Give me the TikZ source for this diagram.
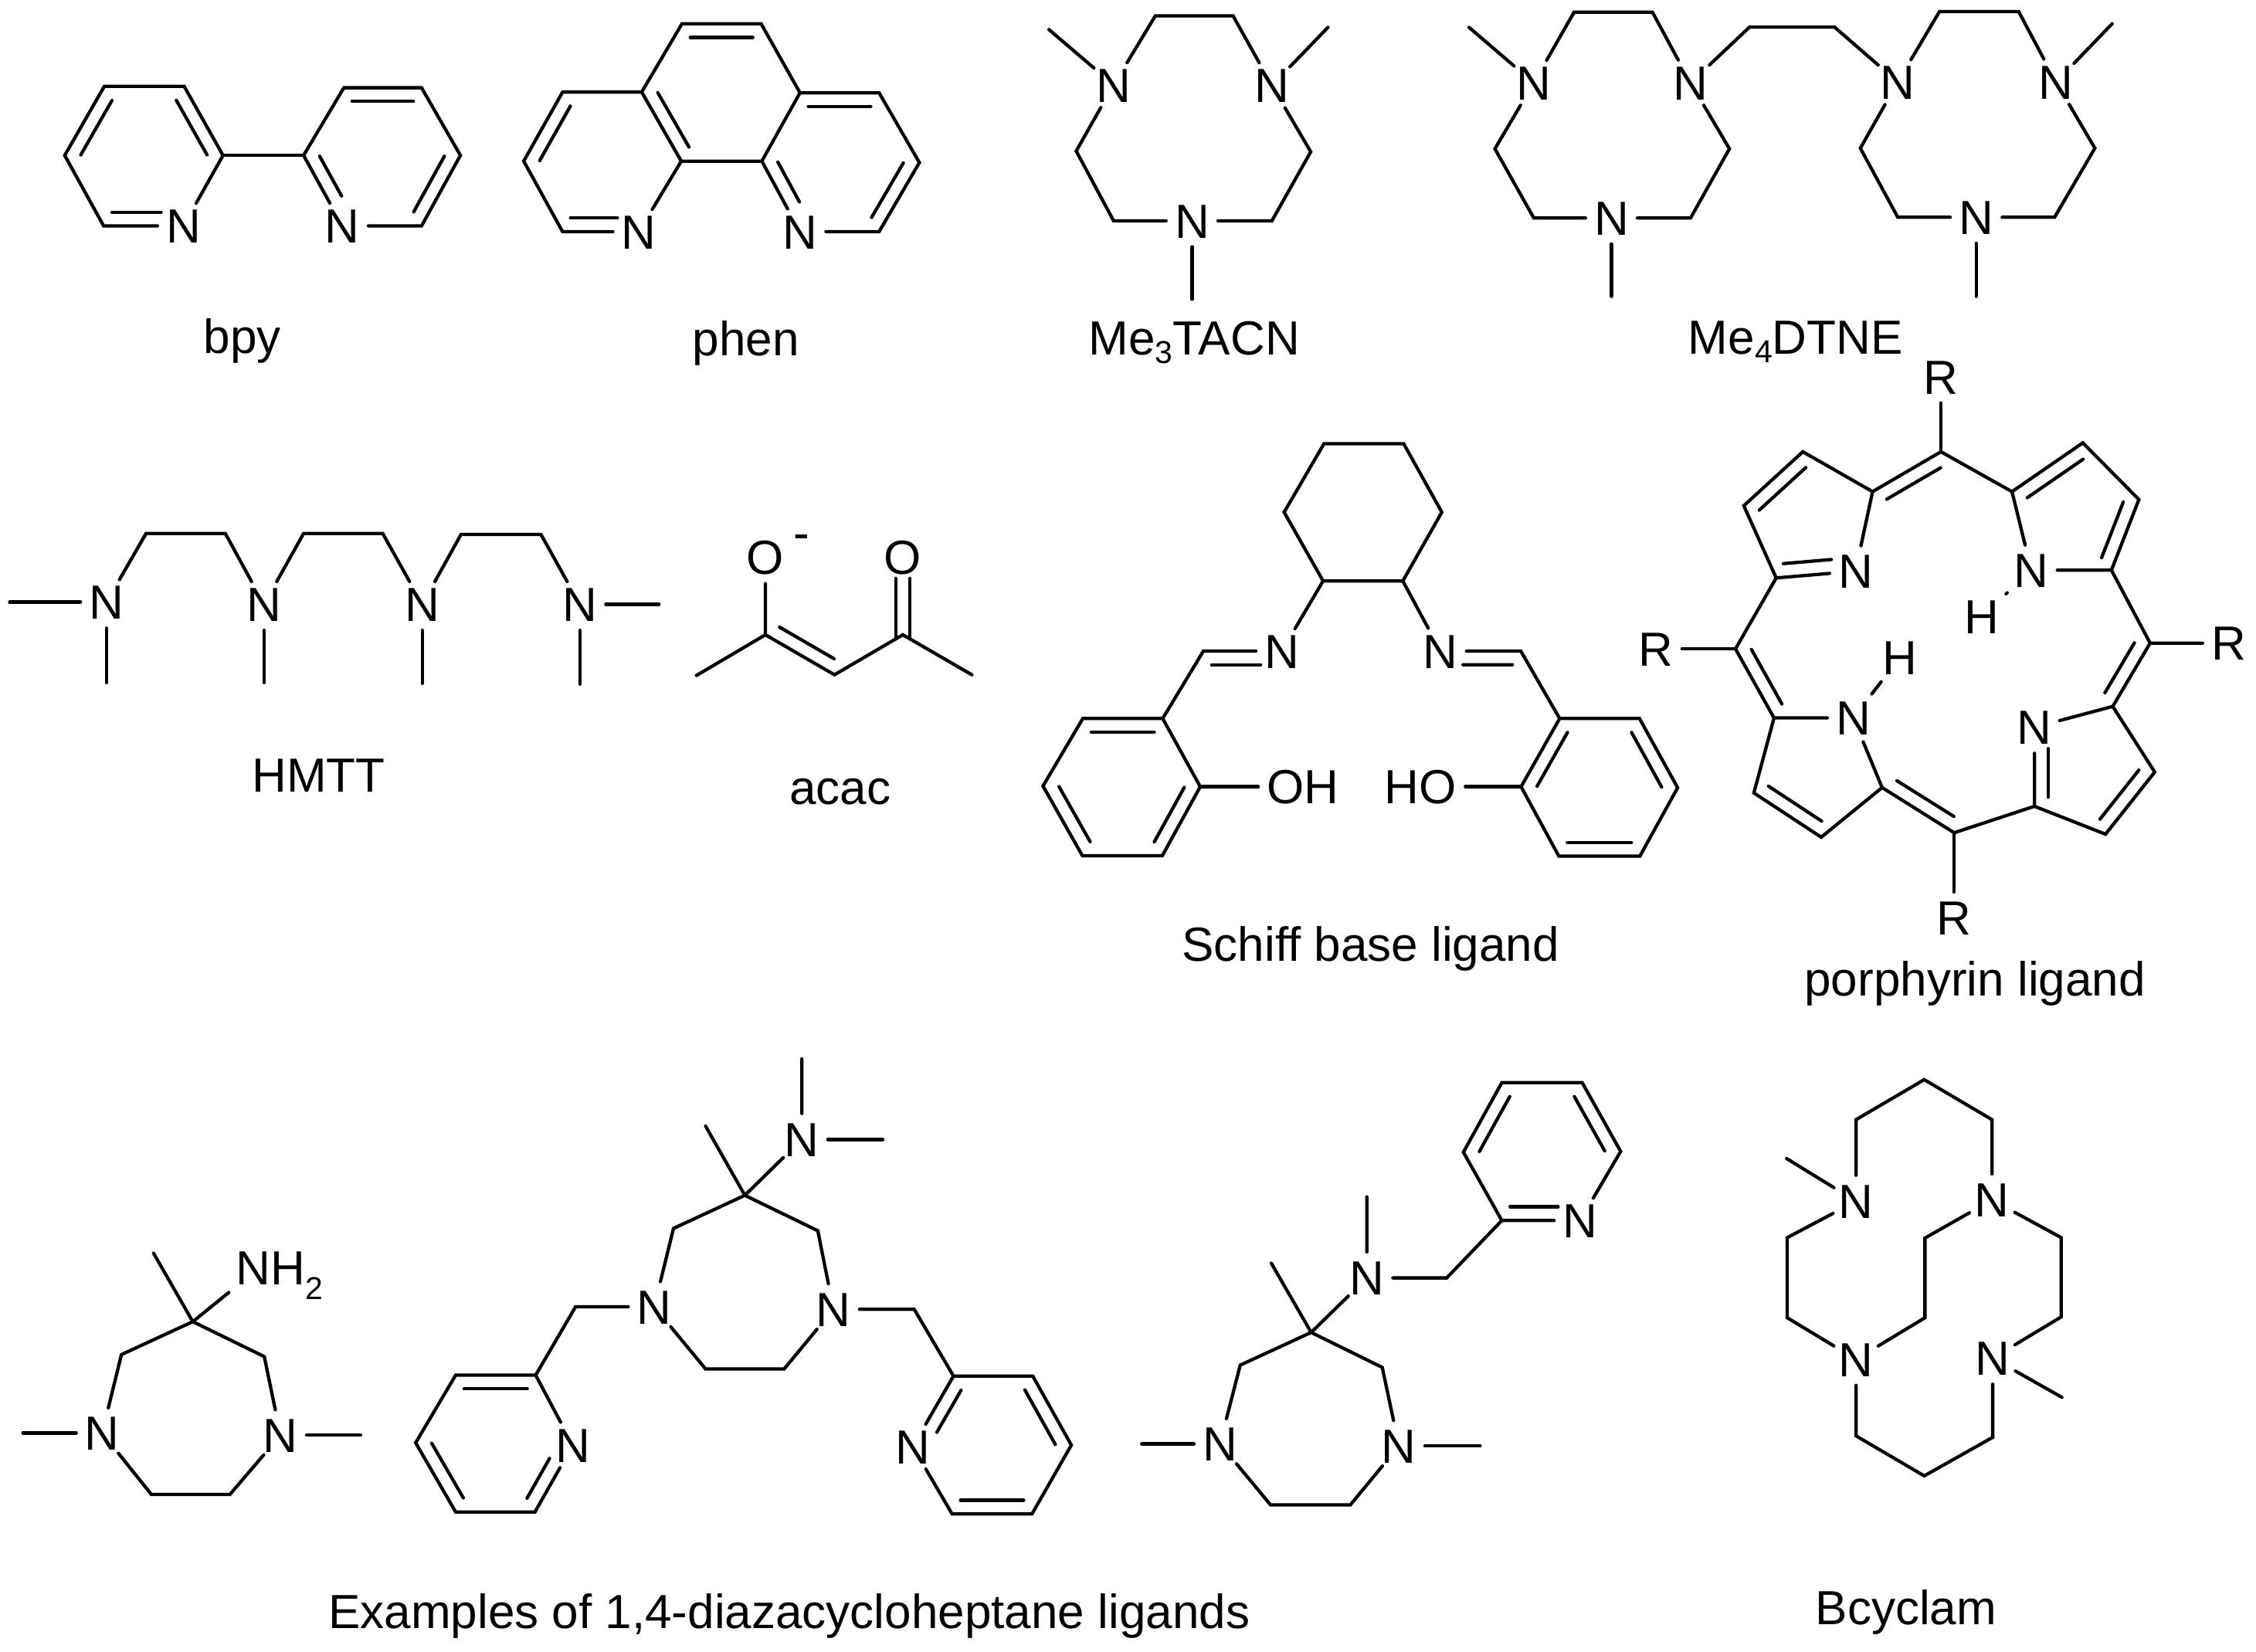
\documentclass[tikz,border=0pt]{standalone}
\usepackage{fontspec}
\setmainfont{Liberation Sans}
\usetikzlibrary{calc}

\newcommand{\dbond}[4]{\draw ($(#1)!#3!(#2)!9.5pt!90:(#2)$) -- ($(#2)!#4!(#1)!9.5pt!-90:(#1)$);}
\newcommand{\ringbond}[2]{\dbond{#1}{#2}{.105}{.105}}
\newcommand{\subtext}[2][6pt]{\raisebox{-#1}{\fontsize{22}{22}\selectfont #2}}

\tikzset{atom/.style={circle,inner sep=0pt,minimum size=32pt,font=\fontsize{33.3}{33.3}\selectfont,text height=23.8pt,text depth=0pt},
group/.style={inner sep=5pt,font=\fontsize{33.3}{33.3}\selectfont,text height=23.8pt,text depth=0pt},
caption/.style={anchor=base,inner sep=0pt,font=\fontsize{33.3}{38}\selectfont}}

\begin{document}
\begin{tikzpicture}[x=1pt,y=-1pt,line width=2.3pt,line cap=round,line join=miter]
\useasboundingbox (0,0) rectangle (1568,1148);

%% Coordinates of atoms.
% bpy
\coordinate (bpy1) at (72.5,60);
\coordinate (bpy2) at (128,60);
\coordinate (bpy3) at (155,108);
\coordinate (bpy4) at (45,108);
\coordinate (bpy5) at (72,157);
\coordinate (bpy6) at (211,108);
\coordinate (bpy7) at (239,61);
\coordinate (bpy8) at (293,61);
\coordinate (bpy9) at (320,108);
\coordinate (bpy10) at (293,157);
% phen
\coordinate (ph1) at (474,16.5);
\coordinate (ph2) at (529,16.5);
\coordinate (ph3) at (446,64);
\coordinate (ph4) at (556,64.5);
\coordinate (ph5) at (391,64);
\coordinate (ph6) at (611,64.5);
\coordinate (ph7) at (364,112);
\coordinate (ph8) at (639,113);
\coordinate (ph9) at (473.5,112);
\coordinate (ph10) at (529.5,112);
\coordinate (ph11) at (391,161);
\coordinate (ph12) at (611,161);
% Me3TACN
\coordinate (ta1) at (803,11);
\coordinate (ta2) at (857,11);
\coordinate (ta3) at (729,20.5);
\coordinate (ta4) at (923,19);
\coordinate (ta5) at (748,105);
\coordinate (ta6) at (911,105.5);
\coordinate (ta7) at (774,153.5);
\coordinate (ta8) at (884,153.5);
\coordinate (ta9) at (828.5,208);
% Me4DTNE
\coordinate (dt1) at (1094,8.5);
\coordinate (dt2) at (1148.5,8.5);
\coordinate (dt3) at (1216,18.8);
\coordinate (dt4) at (1275,18.8);
\coordinate (dt5) at (1348,8);
\coordinate (dt6) at (1403,8);
\coordinate (dt7) at (1021,19);
\coordinate (dt8) at (1468,16.5);
\coordinate (dt9) at (1039,103.4);
\coordinate (dt10) at (1202,103.4);
\coordinate (dt11) at (1293,103);
\coordinate (dt12) at (1456,103);
\coordinate (dt13) at (1066,151.5);
\coordinate (dt14) at (1175,151.5);
\coordinate (dt15) at (1319,151);
\coordinate (dt16) at (1428,151);
\coordinate (dt17) at (1120,206);
\coordinate (dt18) at (1373.5,206);
% HMTT
\coordinate (hm1) at (101.5,370.8);
\coordinate (hm2) at (156.6,370.8);
\coordinate (hm3) at (211,370.8);
\coordinate (hm4) at (266,370.8);
\coordinate (hm5) at (320.4,371.5);
\coordinate (hm6) at (376,371.5);
\coordinate (hm7) at (6.7,418.5);
\coordinate (hm8) at (458,420);
\coordinate (hm9) at (74,474.5);
\coordinate (hm10) at (183.5,474.5);
\coordinate (hm11) at (293.5,475);
\coordinate (hm12) at (403,475.5);
% acac
\coordinate (ac1) at (532,441.2);
\coordinate (ac2) at (580,469);
\coordinate (ac3) at (627.5,441.2);
\coordinate (ac4) at (484,469.5);
\coordinate (ac5) at (675.5,469);
\coordinate (ac6) at (622.5,402);
\coordinate (ac7) at (622.5,444);
\coordinate (ac8) at (632.5,402);
\coordinate (ac9) at (632.5,444);
% Schiff base
\coordinate (sb1) at (920.2,308.4);
\coordinate (sb2) at (975.6,308.4);
\coordinate (sb3) at (1002.1,356);
\coordinate (sb4) at (975,403.8);
\coordinate (sb5) at (919.6,403.8);
\coordinate (sb6) at (892.5,356);
\coordinate (sb7) at (836.4,452.5);
\coordinate (sb8) at (1057,452.5);
\coordinate (sb9) at (808.1,499.4);
\coordinate (sb10) at (752.6,499.4);
\coordinate (sb11) at (724.9,546.3);
\coordinate (sb12) at (752.3,594.8);
\coordinate (sb13) at (807.8,594.8);
\coordinate (sb14) at (834.2,546.8);
\coordinate (sb15) at (1084,499.4);
\coordinate (sb16) at (1139.5,499.4);
\coordinate (sb17) at (1166,547.5);
\coordinate (sb18) at (1139.8,595);
\coordinate (sb19) at (1083.4,595);
\coordinate (sb20) at (1057.2,546.8);
% porphyrin
\coordinate (pp1) at (1349,314);
\coordinate (pp2) at (1301.5,341.7);
\coordinate (pp3) at (1253,314);
\coordinate (pp4) at (1212,351.5);
\coordinate (pp5) at (1234.5,401.7);
\coordinate (pp6) at (1398.4,341.7);
\coordinate (pp7) at (1447.6,307.8);
\coordinate (pp8) at (1486.6,347.2);
\coordinate (pp9) at (1467.5,396.3);
\coordinate (pp10) at (1494.4,447);
\coordinate (pp11) at (1468.4,491);
\coordinate (pp12) at (1497.6,536.6);
\coordinate (pp13) at (1463.4,579.8);
\coordinate (pp14) at (1414,560.4);
\coordinate (pp15) at (1358.2,578.8);
\coordinate (pp16) at (1308.1,547.4);
\coordinate (pp17) at (1265.8,581.9);
\coordinate (pp18) at (1219,551.1);
\coordinate (pp19) at (1233,499);
\coordinate (pp20) at (1206.2,451);
% diazacycloheptane with NH2
\coordinate (da1) at (134,918.6);
\coordinate (da2) at (106.7,871);
\coordinate (da3) at (84.4,941.5);
\coordinate (da4) at (183.7,942.9);
\coordinate (da5) at (105.2,1038.7);
\coordinate (da6) at (159.8,1038.7);
\coordinate (da7) at (15.9,996);
\coordinate (da8) at (250.7,997.5);
% diazacycloheptane with two pyridines
\coordinate (db1) at (517.7,830.8);
\coordinate (db2) at (490.4,782.7);
\coordinate (db3) at (557.3,736);
\coordinate (db4) at (613.6,792);
\coordinate (db5) at (468.1,853.8);
\coordinate (db6) at (568.4,855.4);
\coordinate (db7) at (490.4,951.5);
\coordinate (db8) at (545,951.5);
\coordinate (db9) at (400,908.3);
\coordinate (db10) at (635.4,910);
\coordinate (db11) at (372.3,955.8);
\coordinate (db12) at (316.7,955.8);
\coordinate (db13) at (288.9,1002.8);
\coordinate (db14) at (316.7,1050.9);
\coordinate (db15) at (371.8,1050.9);
\coordinate (db16) at (662.7,956.4);
\coordinate (db17) at (717.8,956.4);
\coordinate (db18) at (744.6,1004.4);
\coordinate (db19) at (717.3,1052.2);
\coordinate (db20) at (661.7,1052.2);
% diazacycloheptane with one pyridine
\coordinate (dc1) at (911.3,926.1);
\coordinate (dc2) at (883.6,878);
\coordinate (dc3) at (950,831.9);
\coordinate (dc4) at (1005.5,888.2);
\coordinate (dc5) at (1043.8,848.3);
\coordinate (dc6) at (1017.1,800.8);
\coordinate (dc7) at (1043.8,752.5);
\coordinate (dc8) at (1099.7,752.5);
\coordinate (dc9) at (1126.4,800.3);
\coordinate (dc10) at (862,948.8);
\coordinate (dc11) at (960.7,950.4);
\coordinate (dc12) at (883.1,1046);
\coordinate (dc13) at (938.5,1046);
\coordinate (dc14) at (793.5,1003.5);
\coordinate (dc15) at (1028.7,1005);
% Bcyclam
\coordinate (bc1) at (1337.4,750.4);
\coordinate (bc2) at (1290,778.2);
\coordinate (bc3) at (1384.5,778.2);
\coordinate (bc4) at (1337.4,1025.8);
\coordinate (bc5) at (1290,998);
\coordinate (bc6) at (1385,999);
\coordinate (bc7) at (1241.7,805.2);
\coordinate (bc8) at (1433.1,971.2);
\coordinate (bc9) at (1242.2,860.2);
\coordinate (bc10) at (1242.2,915.9);
\coordinate (bc11) at (1337.9,860.5);
\coordinate (bc12) at (1337.9,915.9);
\coordinate (bc13) at (1432.6,860.2);
\coordinate (bc14) at (1432.6,915.3);

%% atom labels
\node [atom] (bpyNa) at (127.5,157) {N};
\node [atom] (bpyNb) at (238,157) {N};
\node [atom] (phNa) at (444,161) {N};
\node [atom] (phNb) at (556,161) {N};
\node [atom] (taNa) at (774,59) {N};
\node [atom] (taNb) at (884,59.4) {N};
\node [atom] (taNc) at (828.5,153.5) {N};
\node [atom] (dtNa) at (1066,57.6) {N};
\node [atom] (dtNb) at (1175,57.6) {N};
\node [atom] (dtNc) at (1319,57) {N};
\node [atom] (dtNd) at (1429,57) {N};
\node [atom] (dtNe) at (1120,151.5) {N};
\node [atom] (dtNf) at (1373.5,151) {N};
\node [atom] (hmNa) at (74,418.5) {N};
\node [atom] (hmNb) at (183.5,420) {N};
\node [atom] (hmNc) at (293.5,420) {N};
\node [atom] (hmNd) at (403,420) {N};
\node [atom] (acOa) at (532,387) {O};
\node [atom] (acOb) at (627.5,387) {O};
\node [atom,minimum size=0pt] (acMinus) at (557,370) {-};
\node [atom] (sbNa) at (890.9,452.5) {N};
\node [atom] (sbNb) at (1001.2,452.5) {N};
\node [group,anchor=west] (sbOH) at (874.5,546.8) {OH};
\node [group,anchor=east] (sbHO) at (1018.5,546.8) {HO};
\node [atom] (ppNa) at (1289.6,397) {N};
\node [atom] (ppNb) at (1411.8,396.3) {N};
\node [atom] (ppNc) at (1414,505.5) {N};
\node [atom] (ppNd) at (1288.1,499) {N};
\node [atom] (ppHb) at (1377.5,428.5) {H};
\node [atom] (ppHd) at (1320.3,457.2) {H};
\node [atom] (ppRa) at (1349,262) {R};
\node [atom] (ppRb) at (1548.9,447) {R};
\node [atom] (ppRc) at (1358.2,638) {R};
\node [atom] (ppRd) at (1151,451) {R};
\node [atom] (daNa) at (71,996) {N};
\node [atom] (daNb) at (195,997.5) {N};
\node [group,anchor=west,inner sep=4pt] (daNH) at (159,881.3) {NH\subtext[10pt]{2}};
\node [atom] (dbNa) at (557.3,792) {N};
\node [atom] (dbNb) at (454.7,908.3) {N};
\node [atom] (dbNc) at (579.3,910) {N};
\node [atom] (dbNd) at (398.1,1004.4) {N};
\node [atom] (dbNe) at (634.4,1005.5) {N};
\node [atom] (dcNa) at (950,888.2) {N};
\node [atom] (dcNb) at (1098.2,848.3) {N};
\node [atom] (dcNc) at (847.9,1003.5) {N};
\node [atom] (dcNd) at (972.3,1005) {N};
\node [atom] (bcNa) at (1290,834.9) {N};
\node [atom] (bcNb) at (1384.5,834) {N};
\node [atom] (bcNc) at (1290,944.8) {N};
\node [atom] (bcNd) at (1385,944) {N};

%% single bonds and outer lines
\draw (bpyNa) -- (bpy3) -- (bpy2) -- (bpy1) -- (bpy4) -- (bpy5) -- (bpyNa);
\draw (bpy3) -- (bpy6);
\draw (bpyNb) -- (bpy6) -- (bpy7) -- (bpy8) -- (bpy9) -- (bpy10) -- (bpyNb);

\draw (phNa) -- (ph9) -- (ph3) -- (ph5) -- (ph7) -- (ph11) -- (phNa);
\draw (ph3) -- (ph1) -- (ph2) -- (ph4) -- (ph10) -- (ph9);
\draw (phNb) -- (ph10);
\draw (phNb) -- (ph12) -- (ph8) -- (ph6) -- (ph4);

\draw (taNa) -- (ta1) -- (ta2) -- (taNb) -- (ta6) -- (ta8) -- (taNc) -- (ta7) -- (ta5) -- (taNa);
\draw (taNa) -- (ta3);
\draw (taNb) -- (ta4);
\draw (taNc) -- (ta9);

\draw (dtNa) -- (dt1) -- (dt2) -- (dtNb) -- (dt10) -- (dt14) -- (dtNe) -- (dt13) -- (dt9) -- (dtNa);
\draw (dtNc) -- (dt5) -- (dt6) -- (dtNd) -- (dt12) -- (dt16) -- (dtNf) -- (dt15) -- (dt11) -- (dtNc);
\draw (dtNb) -- (dt3) -- (dt4) -- (dtNc);
\draw (dtNa) -- (dt7);
\draw (dtNd) -- (dt8);
\draw (dtNe) -- (dt17);
\draw (dtNf) -- (dt18);

\draw (hmNa) -- (hm1) -- (hm2) -- (hmNb) -- (hm3) -- (hm4) -- (hmNc) -- (hm5) -- (hm6) -- (hmNd);
\draw (hmNa) -- (hm7);
\draw (hmNd) -- (hm8);
\draw (hmNa) -- (hm9);
\draw (hmNb) -- (hm10);
\draw (hmNc) -- (hm11);
\draw (hmNd) -- (hm12);

\draw (acOa) -- (ac1) -- (ac2) -- (ac3) -- (ac5);
\draw (ac1) -- (ac4);
\draw (ac6) -- (ac7);
\draw (ac8) -- (ac9);

\draw (sb1) -- (sb2) -- (sb3) -- (sb4) -- (sb5) -- (sb6) -- cycle;
\draw (sb5) -- (sbNa) -- (sb7) -- (sb9);
\draw (sb4) -- (sbNb) -- (sb8) -- (sb15);
\draw (sb9) -- (sb10) -- (sb11) -- (sb12) -- (sb13) -- (sb14) -- cycle;
\draw (sb15) -- (sb16) -- (sb17) -- (sb18) -- (sb19) -- (sb20) -- cycle;
\draw (sb14) -- (sbOH.west);
\draw (sb20) -- (sbHO.east);

\draw (ppNa) -- (pp2) -- (pp1) -- (pp6) -- (ppNb);
\draw (pp2) -- (pp3) -- (pp4) -- (pp5) -- (ppNa);
\draw (pp6) -- (pp7) -- (pp8) -- (pp9) -- (ppNb);
\draw (pp9) -- (pp10) -- (ppRb);
\draw (pp10) -- (pp11) -- (ppNc);
\draw (pp11) -- (pp12) -- (pp13) -- (pp14) -- (ppNc);
\draw (pp14) -- (pp15) -- (pp16) -- (ppNd);
\draw (pp16) -- (pp17) -- (pp18) -- (pp19) -- (ppNd);
\draw (pp19) -- (pp20) -- (pp5);
\draw (pp20) -- (ppRd);
\draw (pp15) -- (ppRc);
\draw (pp1) -- (ppRa);
\draw [shorten <=6pt,shorten >=6pt] (ppNb) -- (ppHb);
\draw [shorten <=3pt,shorten >=3pt] (ppNd) -- (ppHd);

\draw (daNa) -- (da3) -- (da1) -- (da4) -- (daNb) -- (da6) -- (da5) -- (daNa);
\draw (da1) -- (da2);
\draw (da1) -- (daNH.south west);
\draw (daNa) -- (da7);
\draw (daNb) -- (da8);

\draw (dbNb) -- (db5) -- (db1) -- (db6) -- (dbNc) -- (db8) -- (db7) -- (dbNb);
\draw (db1) -- (db2);
\draw (db1) -- (dbNa) -- (db3);
\draw (dbNa) -- (db4);
\draw (dbNb) -- (db9) -- (db11) -- (db12) -- (db13) -- (db14) -- (db15) -- (dbNd) -- (db11);
\draw (dbNc) -- (db10) -- (db16) -- (db17) -- (db18) -- (db19) -- (db20) -- (dbNe) -- (db16);

\draw (dcNc) -- (dc10) -- (dc1) -- (dc11) -- (dcNd) -- (dc13) -- (dc12) -- (dcNc);
\draw (dc1) -- (dc2);
\draw (dc1) -- (dcNa) -- (dc3);
\draw (dcNa) -- (dc4) -- (dc5) -- (dc6) -- (dc7) -- (dc8) -- (dc9) -- (dcNb) -- (dc5);
\draw (dcNc) -- (dc14);
\draw (dcNd) -- (dc15);

\draw (bcNa) -- (bc2) -- (bc1) -- (bc3) -- (bcNb);
\draw (bcNc) -- (bc5) -- (bc4) -- (bc6) -- (bcNd);
\draw (bcNa) -- (bc9) -- (bc10) -- (bcNc);
\draw (bcNb) -- (bc11) -- (bc12) -- (bcNc);
\draw (bcNb) -- (bc13) -- (bc14) -- (bcNd);
\draw (bcNa) -- (bc7);
\draw (bcNd) -- (bc8);

%% inner lines of double bonds
\ringbond{bpy1}{bpy4}
\ringbond{bpy3}{bpy2}
\dbond{bpy5}{bpyNa}{.105}{.28}
\ringbond{bpy8}{bpy7}
\dbond{bpy6}{bpyNb}{.105}{.33}
\ringbond{bpy10}{bpy9}

\ringbond{ph2}{ph1}
\ringbond{ph5}{ph7}
\dbond{ph11}{phNa}{.105}{.28}
\ringbond{ph3}{ph9}
\ringbond{ph6}{ph4}
\dbond{ph10}{phNb}{.105}{.33}
\ringbond{ph12}{ph8}

\ringbond{ac1}{ac2}

\dbond{sbNa}{sb7}{.27}{.105}
\dbond{sb8}{sbNb}{.105}{.28}
\ringbond{sb9}{sb10}
\ringbond{sb11}{sb12}
\ringbond{sb13}{sb14}
\ringbond{sb15}{sb20}
\ringbond{sb17}{sb16}
\ringbond{sb19}{sb18}

\ringbond{pp1}{pp2}
\ringbond{pp3}{pp4}
\dbond{pp5}{ppNa}{.105}{.29}
\ringbond{pp7}{pp6}
\ringbond{pp9}{pp8}
\ringbond{pp11}{pp10}
\dbond{ppNc}{pp14}{.27}{.115}
\ringbond{pp13}{pp12}
\ringbond{pp16}{pp15}
\ringbond{pp18}{pp17}
\ringbond{pp20}{pp19}

\ringbond{db11}{db12}
\ringbond{db13}{db14}
\dbond{db15}{dbNd}{.105}{.3}
\dbond{db16}{dbNe}{.105}{.3}
\ringbond{db20}{db19}
\ringbond{db18}{db17}

\dbond{dc5}{dcNb}{.105}{.28}
\ringbond{dc7}{dc6}
\ringbond{dc9}{dc8}

%% captions
\node [caption] (capBpy) at (168.5,245.5) {bpy};
\node [caption] (capPhen) at (518.5,247) {phen};
\node [caption] (capTacn) at (830,246.5) {Me\subtext{3}TACN};
\node [caption] (capDtne) at (1248,246) {Me\subtext{4}DTNE};
\node [caption] (capHmtt) at (221.5,550.3) {HMTT};
\node [caption] (capAcac) at (584,559) {acac};
\node [caption] (capSchiff) at (952.7,668.3) {Schiff base ligand};
\node [caption] (capPorph) at (1372.7,692) {porphyrin ligand};
\node [caption] (capDiaza) at (548.5,1131.9) {Examples of 1,4-diazacycloheptane ligands};
\node [caption] (capBcyclam) at (1324.8,1128.9) {Bcyclam};
\end{tikzpicture}
\end{document}
